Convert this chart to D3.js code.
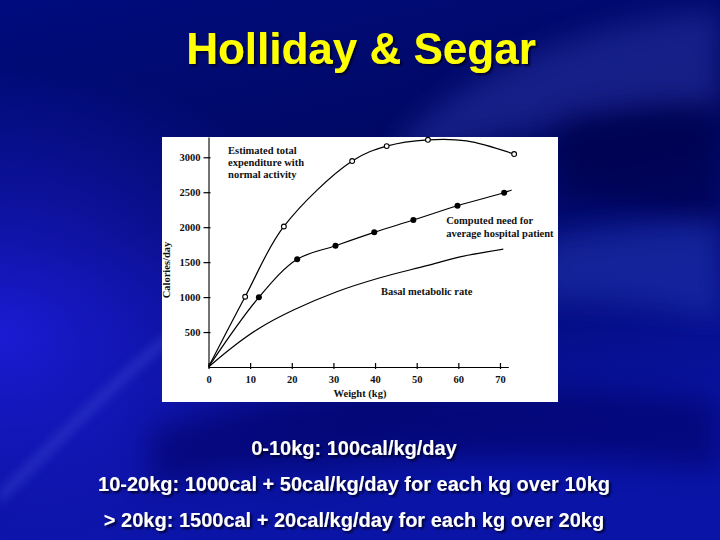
<!DOCTYPE html>
<html><head><meta charset="utf-8">
<script src="https://cdn.jsdelivr.net/npm/d3@7"></script>
<style>html,body{margin:0;padding:0;background:#000a70;}svg{display:block;}</style>
</head><body><svg id="c" width="720" height="540"></svg>
<script>
// ---- data ----
const xTicks = [0,10,20,30,40,50,60,70];
const yTicks = [500,1000,1500,2000,2500,3000];
// Estimated total expenditure with normal activity (open markers + curve)
const totalMarkers = [[8.8,1005],[18.1,2010],[34.5,2946],[42.8,3160],[52.7,3250],[73.4,3046]];
const totalCurve = [[0,0],[8.8,1005],[18.1,2010],[34.5,2946],[42.8,3160],[52.7,3250],[62,3235],[73.4,3046]];
// Computed need for average hospital patient (filled markers + curve)
const needMarkers = [[12.1,997],[21.3,1540],[30.5,1735],[39.8,1926],[49.2,2102],[59.8,2307],[71,2493]];
const needCurve = [[0,0],[12.1,997],[21.3,1540],[30.5,1735],[39.8,1926],[49.2,2102],[59.8,2307],[71,2493],[72.8,2531]];
// Basal metabolic rate
const basalCurve = [[0,0],[5.9,290],[12.4,562],[20.4,815],[30.8,1077],[41.2,1277],[52.4,1449],[60.4,1575],[70.8,1687]];
const title = "Holliday & Segar";
const rules = ["0-10kg: 100cal/kg/day","10-20kg: 1000cal + 50cal/kg/day for each kg over 10kg","> 20kg: 1500cal + 20cal/kg/day for each kg over 20kg"];
const annotations = [
  {lines:["Estimated total","expenditure with","normal activity"], x:4.7, y:3050},
  {lines:["Computed need for","average hospital patient"], x:57.1, y:2040},
  {lines:["Basal metabolic rate"], x:41.4, y:1030}
];

const svg = d3.select("#c");
const defs = svg.append("defs");

// ---- background ----
const lg = defs.append("linearGradient").attr("id","bg").attr("x1",0).attr("y1",0).attr("x2",0.3).attr("y2",1);
lg.append("stop").attr("offset","0%").attr("stop-color","#000c7e");
lg.append("stop").attr("offset","45%").attr("stop-color","#000860");
lg.append("stop").attr("offset","100%").attr("stop-color","#0a14a6");
svg.append("rect").attr("width",720).attr("height",540).attr("fill","url(#bg)");
const rg = defs.append("radialGradient").attr("id","lb").attr("cx","0").attr("cy","0.62").attr("r","0.5");
rg.append("stop").attr("offset","0%").attr("stop-color","#1c1cd8").attr("stop-opacity",0.95);
rg.append("stop").attr("offset","100%").attr("stop-color","#1c1cd8").attr("stop-opacity",0);
svg.append("rect").attr("width",720).attr("height",540).attr("fill","url(#lb)");
const blur = defs.append("filter").attr("id","bl").attr("x","-20%").attr("y","-20%").attr("width","140%").attr("height","140%");
blur.append("feGaussianBlur").attr("stdDeviation",14);
const blur2 = defs.append("filter").attr("id","bl2").attr("x","-20%").attr("y","-20%").attr("width","140%").attr("height","140%");
blur2.append("feGaussianBlur").attr("stdDeviation",5);
svg.append("path").attr("d","M400,140 C480,60 600,20 720,10 L720,110 C620,110 520,130 400,160 Z")
  .attr("fill","#2a36a8").attr("opacity",0.5).attr("filter","url(#bl)");
svg.append("path").attr("d","M0,490 C60,430 120,370 170,330 L175,340 C125,380 65,440 0,505 Z")
  .attr("fill","#3a44d0").attr("opacity",0.45).attr("filter","url(#bl2)");
svg.append("path").attr("d","M560,120 C620,110 680,100 720,110 L720,230 C660,210 600,200 560,200 Z")
  .attr("fill","#000548").attr("opacity",0.6).attr("filter","url(#bl)");
svg.append("path").attr("d","M540,240 C620,225 680,222 720,220 L720,320 C660,300 600,300 540,300 Z")
  .attr("fill","#2434b0").attr("opacity",0.55).attr("filter","url(#bl)");
svg.append("path").attr("d","M150,430 C300,380 500,380 720,400 L720,470 C500,450 300,450 150,490 Z")
  .attr("fill","#000660").attr("opacity",0.55).attr("filter","url(#bl)");

// ---- chart panel ----
svg.append("rect").attr("x",162).attr("y",137).attr("width",396).attr("height",265).attr("fill","#ffffff");

const x = d3.scaleLinear().domain([0,72]).range([208.5,508.3]);
const y = d3.scaleLinear().domain([0,3290]).range([367,137]);
const g = svg.append("g");
const serif = "'Liberation Serif','DejaVu Serif',serif";

const xAxis = g.append("g").attr("transform","translate(0,367)")
  .call(d3.axisBottom(x).tickValues(xTicks).tickSize(0).tickPadding(9).tickFormat(d3.format("d")));
xAxis.select(".domain").attr("stroke","#000").attr("stroke-width",1.1);
xAxis.selectAll(".tick").append("line").attr("y1",-4).attr("y2",2).attr("stroke","#000").attr("stroke-width",1.2);
const yAxis = g.append("g").attr("transform","translate(208.5,0)")
  .call(d3.axisLeft(y).tickValues(yTicks).tickSize(0).tickPadding(8).tickFormat(d3.format("d")));
yAxis.select(".domain").attr("stroke","#000").attr("stroke-width",1.1);
yAxis.selectAll(".tick").append("line").attr("x1",-5).attr("x2",2).attr("stroke","#000").attr("stroke-width",1.2);
g.selectAll(".tick text").attr("font-family",serif).attr("font-size",10.5).attr("font-weight","bold").attr("fill","#111");

g.append("text").attr("transform","translate(170,270) rotate(-90)").attr("text-anchor","middle")
  .attr("font-family",serif).attr("font-size",10.5).attr("font-weight","bold").attr("fill","#111").text("Calories/day");
g.append("text").attr("x",360).attr("y",397).attr("text-anchor","middle")
  .attr("font-family",serif).attr("font-size",10.5).attr("font-weight","bold").attr("fill","#111").text("Weight (kg)");

const line = d3.line().x(d=>x(d[0])).y(d=>y(d[1])).curve(d3.curveCatmullRom.alpha(0.5));
[totalCurve, needCurve, basalCurve].forEach(c=>{
  g.append("path").attr("d",line(c)).attr("fill","none").attr("stroke","#000").attr("stroke-width",1.2);
});
g.selectAll(".om").data(totalMarkers).join("circle").attr("cx",d=>x(d[0])).attr("cy",d=>y(d[1])).attr("r",2.4)
  .attr("fill","#fff").attr("stroke","#000").attr("stroke-width",1.1);
g.selectAll(".fm").data(needMarkers).join("circle").attr("cx",d=>x(d[0])).attr("cy",d=>y(d[1])).attr("r",3)
  .attr("fill","#000");

annotations.forEach(a=>{
  const t = g.append("text").attr("x",x(a.x)).attr("y",y(a.y)).attr("font-family",serif)
    .attr("font-size",10.5).attr("font-weight","bold").attr("fill","#111");
  a.lines.forEach((l,i)=>t.append("tspan").attr("x",x(a.x)).attr("dy",i?12.2:0).text(l));
});

const sh = defs.append("filter").attr("id","sh");
sh.append("feDropShadow").attr("dx",2).attr("dy",2).attr("stdDeviation",0.8).attr("flood-color","#000020").attr("flood-opacity",0.9);
svg.append("text").attr("x",361).attr("y",64).attr("text-anchor","middle")
  .attr("font-family","'Liberation Sans',Arial,sans-serif").attr("font-weight","bold").attr("font-size",44)
  .attr("fill","#ffff00").attr("filter","url(#sh)").text(title);

svg.selectAll(".rule").data(rules).join("text").attr("x",354).attr("y",(d,i)=>455+i*36)
  .attr("text-anchor","middle").attr("font-family","'Liberation Sans',Arial,sans-serif").attr("font-weight","bold")
  .attr("font-size",20).attr("fill","#ffffff").attr("filter","url(#sh)").text(d=>d);
</script></body></html>
